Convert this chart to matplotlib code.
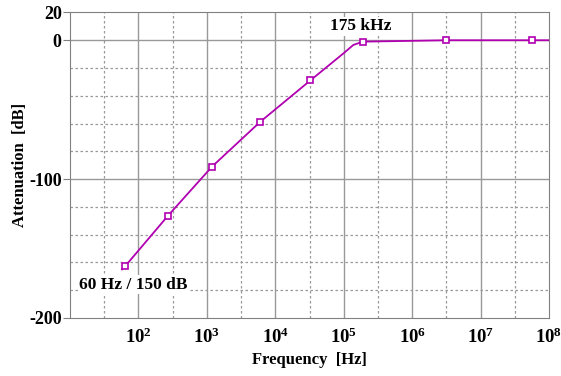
import matplotlib
matplotlib.use("Agg")
import matplotlib.pyplot as plt
import numpy as np

# Curve (frequency in Hz, attenuation in dB)
line_freq = [57.5, 64, 271, 1190, 6000, 32600, 100000, 138000, 190000, 3.14e6, 5.67e7, 1e8]
line_att = [-165, -162.7, -126.3, -91, -58.8, -28.9, -9.3, -3.4, -1, 0, 0, 0]

# Square markers on the curve
mark_freq = [64, 271, 1190, 6000, 32600, 190000, 3.14e6, 5.67e7]
mark_att = [-162.7, -126.3, -91, -58.8, -28.9, -1, 0, 0]

y_ticks = [20, 0, -100, -200]
x_ticks = [1e2, 1e3, 1e4, 1e5, 1e6, 1e7, 1e8]
x_labels = ["$10^{%d}$" % int(np.log10(v)) for v in x_ticks]

plt.rcParams["font.family"] = ["Liberation Serif", "DejaVu Serif"]
plt.rcParams["font.weight"] = "bold"
plt.rcParams["axes.unicode_minus"] = False
plt.rcParams["mathtext.fontset"] = "custom"
plt.rcParams["mathtext.rm"] = "Liberation Serif:bold"
plt.rcParams["mathtext.it"] = "Liberation Serif:bold"
plt.rcParams["mathtext.bf"] = "Liberation Serif:bold"

fig = plt.figure(figsize=(5.61, 3.76), dpi=100)
ax = fig.add_axes([0.1248, 0.1543, 0.8538, 0.8125])

ax.set_xscale("log")
ax.set_xlim(10, 1e8)
ax.set_ylim(-200, 20)

# grid: solid at decades / 0 and -100, dotted in between
grid_col = "#999999"
for d in range(2, 8):
    ax.axvline(10.0 ** d, color=grid_col, lw=1, zorder=1)
for d in range(1, 8):
    ax.axvline(10.0 ** (d + 0.5), color=grid_col, lw=0.9, ls=(0, (2, 2)), zorder=1)
for yv in [0, -100]:
    ax.axhline(yv, color=grid_col, lw=1, zorder=1)
for yv in [-20, -40, -60, -80, -120, -140, -160, -180]:
    ax.axhline(yv, color=grid_col, lw=0.9, ls=(0, (2, 2)), zorder=1)

col = "#b000b0"
ax.plot(line_freq, line_att, color=col, lw=1.3, zorder=3)
ax.plot(mark_freq, mark_att, ls="none", marker="s", ms=4.5, mfc="white",
        mec=col, mew=1.2, zorder=4)

ax.text(1.75e5, 10, "175 kHz", ha="center", va="center", fontsize=12.5,
        fontweight="bold", zorder=5,
        bbox=dict(facecolor="white", edgecolor="none", pad=1))
ax.text(13.5, -176, "60 Hz / 150 dB", ha="left", va="center", fontsize=12.5,
        fontweight="bold", zorder=5,
        bbox=dict(facecolor="white", edgecolor="none", pad=1))

ax.set_yticks(y_ticks)
ax.set_xticks(x_ticks)
ax.set_xticklabels(x_labels)
ax.minorticks_off()
ax.tick_params(axis="y", length=5, color="#808080", labelsize=13, pad=1)
ax.tick_params(axis="x", length=0, labelsize=13.5, pad=7)
for s in ax.spines.values():
    s.set_color("#808080")

ax.set_xlabel("Frequency  [Hz]", fontsize=12, fontweight="bold")
ax.set_ylabel("Attenuation  [dB]", fontsize=12, fontweight="bold")
ax.xaxis.set_label_coords(0.5, -0.11)
ax.yaxis.set_label_coords(-0.088, 0.5)

fig.savefig("out.png", dpi=100)
